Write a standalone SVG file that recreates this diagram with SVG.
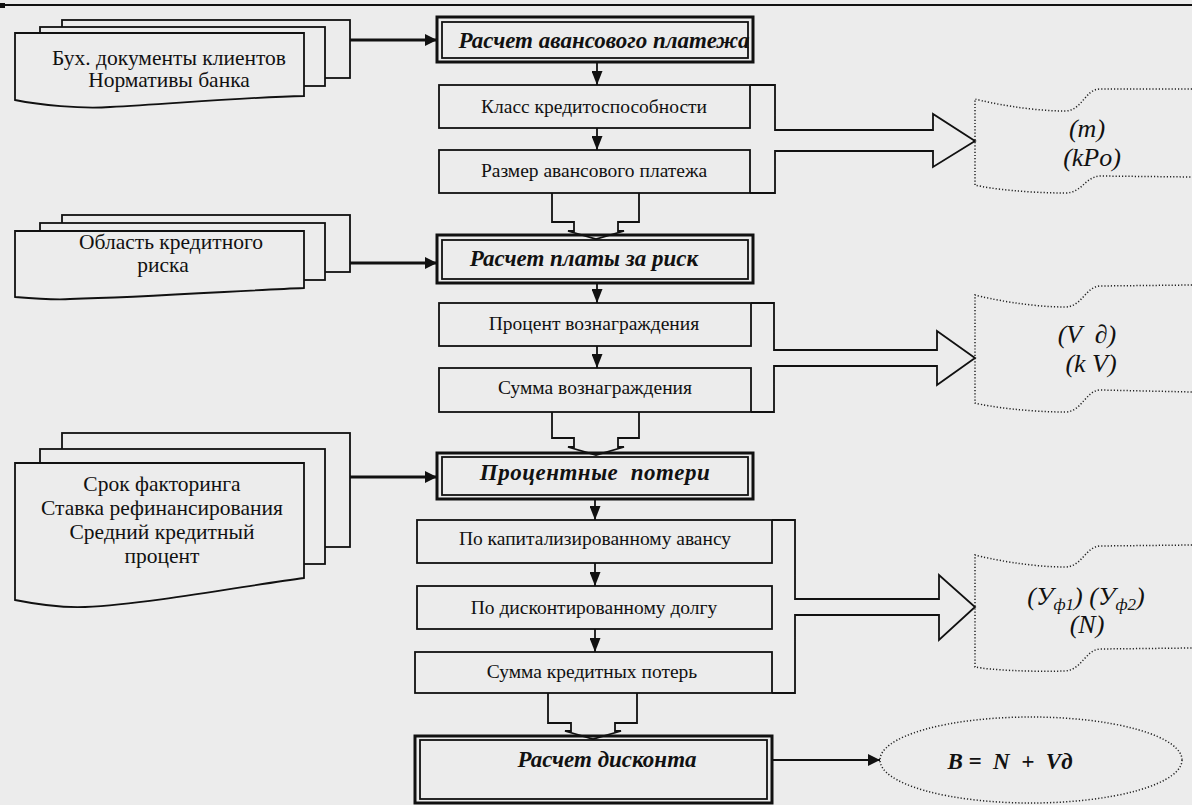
<svg xmlns="http://www.w3.org/2000/svg" width="1192" height="805" viewBox="0 0 1192 805">
<defs>
<style>
.bg{fill:#ececec}
.ln{fill:none;stroke:#111;stroke-width:1.8}
.sheet{fill:#ececec;stroke:#111;stroke-width:1.8}
.box{fill:#ececec;stroke:#111;stroke-width:1.8}
.outer{fill:#ececec;stroke:#111;stroke-width:3}
.inner{fill:none;stroke:#111;stroke-width:1.8}
.thick{fill:none;stroke:#111;stroke-width:3}
.dot{fill:none;stroke:#222;stroke-width:1.5;stroke-dasharray:1.2 2}
.doc{font-family:"Liberation Serif","Times New Roman",serif;font-size:21.5px;fill:#111;text-anchor:middle}
.bt{font-family:"Liberation Serif","Times New Roman",serif;font-size:19.5px;fill:#111;text-anchor:middle}
.hd{font-family:"Liberation Serif","Times New Roman",serif;font-size:23px;font-weight:bold;font-style:italic;fill:#111;text-anchor:middle}
.out{font-family:"Liberation Serif","Times New Roman",serif;font-size:26px;font-style:italic;fill:#111;text-anchor:middle}
.sub{font-size:17px}
</style>
<marker id="ah" viewBox="0 0 12 12" refX="12" refY="6" markerWidth="12" markerHeight="12" markerUnits="userSpaceOnUse" orient="auto">
<path d="M0,0 L12,6 L0,12 Z" fill="#111"/>
</marker>
<marker id="ahs" viewBox="0 0 14 11" refX="14" refY="5.5" markerWidth="14" markerHeight="11" markerUnits="userSpaceOnUse" orient="auto">
<path d="M0,0 L14,5.5 L0,11 Z" fill="#111"/>
</marker>
</defs>
<rect class="bg" x="0" y="0" width="1192" height="805"/>
<line x1="0" y1="5" x2="1192" y2="5" stroke="#111" stroke-width="2"/>
<rect x="0" y="3" width="5" height="5" fill="#111"/>

<!-- Document stacks -->
<g id="doc1">
<rect class="sheet" x="62" y="20" width="288" height="58"/>
<rect class="sheet" x="40" y="27" width="285" height="59"/>
<path class="sheet" d="M15,33 L304,33 L304,96 C250,97 180,103 110,107 C80,109 40,105 15,100 Z"/>
<text class="doc" x="169" y="65">Бух. документы клиентов</text>
<text class="doc" x="169" y="87">Нормативы банка</text>
</g>
<g id="doc2">
<rect class="sheet" x="62" y="215" width="288" height="57"/>
<rect class="sheet" x="40" y="223" width="285" height="57"/>
<path class="sheet" d="M15,231 L304,231 L304,288 C250,290 150,297 70,299 C55,300 40,299 15,297 Z"/>
<text class="doc" x="171" y="249" font-size="20.5">Область кредитного</text>
<text class="doc" x="163" y="272" font-size="20.5">риска</text>
</g>
<g id="doc3">
<rect class="sheet" x="62" y="433" width="288" height="114"/>
<rect class="sheet" x="40" y="449" width="285" height="115"/>
<path class="sheet" d="M15,463 L304,463 L304,578 C250,585 150,604 85,607 C60,608 40,605 15,600 Z"/>
<text class="doc" x="162" y="491" font-size="22">Срок факторинга</text>
<text class="doc" x="162" y="515" font-size="22">Ставка рефинансирования</text>
<text class="doc" x="162" y="539" font-size="22">Средний кредитный</text>
<text class="doc" x="162" y="563" font-size="22">процент</text>
</g>

<!-- Header blocks -->
<g id="h1">
<rect class="outer" x="437" y="17" width="316" height="45"/>
<rect class="inner" x="442" y="22" width="306" height="36"/>
<text class="hd" x="604" y="48">Расчет авансового платежа</text>
</g>
<g id="h2">
<rect class="outer" x="437" y="235" width="316" height="48"/>
<rect class="inner" x="442" y="240" width="306" height="39"/>
<text class="hd" x="584" y="266">Расчет платы за риск</text>
</g>
<g id="h3">
<rect class="outer" x="437" y="453" width="316" height="46"/>
<rect class="inner" x="442" y="457" width="306" height="38"/>
<text class="hd" x="595" y="480" xml:space="preserve" letter-spacing="0.5">Процентные  потери</text>
</g>
<g id="h4">
<rect class="outer" x="415" y="736" width="357" height="67"/>
<rect class="inner" x="420" y="740" width="347" height="59"/>
<text class="hd" x="607" y="767" font-size="22">Расчет дисконта</text>
</g>

<!-- Step boxes -->
<g id="b11"><rect class="box" x="439" y="85" width="311" height="43"/><text class="bt" x="594" y="113">Класс кредитоспособности</text></g>
<g id="b12"><rect class="box" x="439" y="150" width="311" height="43"/><text class="bt" x="594" y="177">Размер авансового платежа</text></g>
<g id="b21"><rect class="box" x="439" y="303" width="312" height="43"/><text class="bt" x="594" y="330">Процент вознаграждения</text></g>
<g id="b22"><rect class="box" x="439" y="368" width="312" height="44"/><text class="bt" x="595" y="394">Сумма вознаграждения</text></g>
<g id="b31"><rect class="box" x="417" y="520" width="355" height="43"/><text class="bt" x="595" y="545">По капитализированному авансу</text></g>
<g id="b32"><rect class="box" x="417" y="586" width="355" height="43"/><text class="bt" x="594" y="614">По дисконтированному долгу</text></g>
<g id="b33"><rect class="box" x="415" y="652" width="357" height="41"/><text class="bt" x="592" y="678">Сумма кредитных потерь</text></g>

<!-- Outputs -->
<g id="o1">
<path class="dot" d="M1192,89 L1100,89 C1085,89 1082,111 1065,111 C1030,111 990,103 975,99 L975,185 C990,189 1030,193 1065,193 C1082,193 1085,177 1100,176 L1192,177"/>
<text class="out" x="1087" y="137">(m)</text>
<text class="out" x="1092" y="166">(kPo)</text>
</g>
<g id="o2">
<path class="dot" d="M1192,285 L1100,286 C1085,287 1082,307 1065,307 C1030,307 990,299 975,295 L975,403 C990,407 1030,412 1065,412 C1082,412 1085,391 1100,390 L1192,392"/>
<text class="out" x="1087" y="343" xml:space="preserve">(V  ∂)</text>
<text class="out" x="1091" y="372">(k V)</text>
</g>
<g id="o3">
<path class="dot" d="M1192,545 L1100,546 C1085,547 1082,567 1065,567 C1030,567 990,559 975,555 L975,667 C990,670 1030,672 1065,671 C1082,670 1085,650 1100,649 L1192,648"/>
<text class="out" x="1086" y="605">(У<tspan class="sub" dy="5">ф1</tspan><tspan dy="-5">) (У</tspan><tspan class="sub" dy="5">ф2</tspan><tspan dy="-5">)</tspan></text>
<text class="out" x="1087" y="633">(N)</text>
</g>
<g id="o4">
<ellipse class="dot" cx="1031" cy="760" rx="151" ry="43"/>
<text class="hd" x="1010" y="769" font-size="27" xml:space="preserve">B =  N  +  Vд</text>
</g>

<!-- Connectors -->
<g id="connectors">
<line class="thick" x1="350" y1="40" x2="437" y2="40" marker-end="url(#ah)"/>
<line class="thick" x1="350" y1="263" x2="437" y2="263" marker-end="url(#ah)"/>
<line class="thick" x1="350" y1="477" x2="437" y2="477" marker-end="url(#ah)"/>
<line class="ln" x1="772" y1="760" x2="880" y2="760" marker-end="url(#ah)"/>

<line class="ln" x1="597" y1="62" x2="597" y2="85" marker-end="url(#ahs)"/>
<line class="ln" x1="597" y1="128" x2="597" y2="150" marker-end="url(#ahs)"/>
<line class="ln" x1="597" y1="283" x2="597" y2="303" marker-end="url(#ahs)"/>
<line class="ln" x1="597" y1="346" x2="597" y2="368" marker-end="url(#ahs)"/>
<line class="ln" x1="595" y1="499" x2="595" y2="520" marker-end="url(#ahs)"/>
<line class="ln" x1="595" y1="563" x2="595" y2="586" marker-end="url(#ahs)"/>
<line class="ln" x1="595" y1="629" x2="595" y2="652" marker-end="url(#ahs)"/>

<path class="ln" d="M552,193 L552,222 L574,222 L574,231 L568,231 L596,239 L624,231 L618,231 L618,222 L639,222 L639,193"/>
<path class="ln" d="M552,412 L552,438 L574,438 L574,447 L568,447 L596,455 L624,447 L618,447 L618,438 L639,438 L639,412"/>
<path class="ln" d="M548,693 L548,723 L571,723 L571,731 L565,731 L593,739 L621,731 L615,731 L615,723 L637,723 L637,693"/>

<path class="ln" d="M750,85 L775,85 L775,130 L933,130 L933,114 L975,141 L933,167 L933,151 L775,151 L775,193 L750,193"/>
<path class="ln" d="M751,303 L774,303 L774,350 L937,350 L937,331 L975,358 L937,385 L937,366 L774,366 L774,412 L751,412"/>
<path class="ln" d="M772,520 L795,520 L795,599 L939,599 L939,575 L975,607 L939,640 L939,615 L795,615 L795,693 L772,693"/>
</g>
</svg>
